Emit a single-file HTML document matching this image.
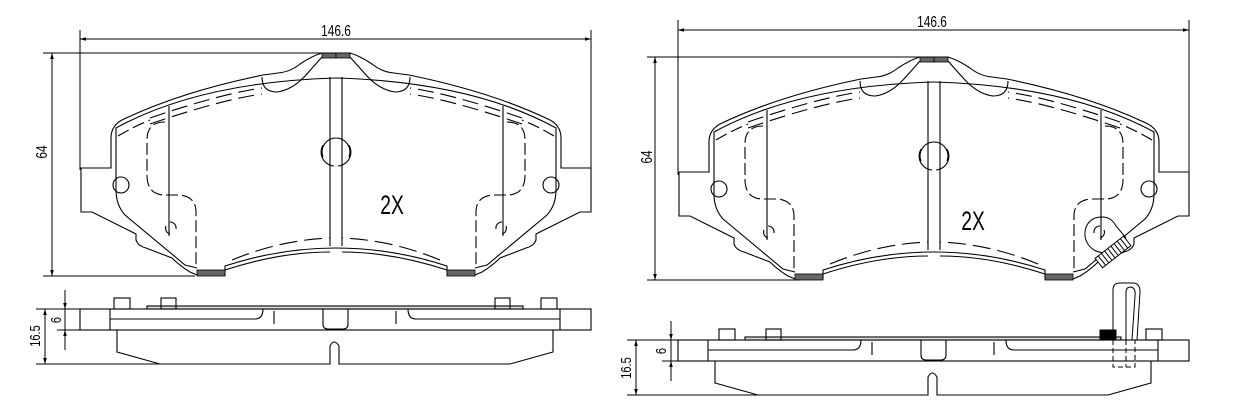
<!DOCTYPE html>
<html><head><style>
html,body{margin:0;padding:0;background:#fff;}
svg{display:block;}
text{font-family:"Liberation Sans",sans-serif;fill:#000;}
</style></head><body>
<svg width="1239" height="410" viewBox="0 0 1239 410" xmlns="http://www.w3.org/2000/svg">
<defs>
<marker id="ar" viewBox="0 0 10 10" refX="10" refY="5" markerWidth="9" markerHeight="6" orient="auto-start-reverse" markerUnits="userSpaceOnUse"><path d="M0 2 L10 5 L0 8 Z" fill="#000"/></marker>
<g id="half" fill="none" stroke="#000" stroke-width="1.1">
<path d="M336 53 L322 53 Q312 56 300 64 Q290 72 278 73 L263 75 Q180 92 122 120 Q111 126 111 138 L111 168 L81 168 L81 212 L92 212 L136 234 L136 240 Q138 246 146 248 L172 258 Q180 266 190 272 L197 275 L225 275 L225 266 Q280 248 336 248"/>
<path d="M336 78 Q200 82 116 128 L116 190 Q116 205 125 215 L185 265 L197 268"/>
<path d="M262 77 Q262 92 277 92 Q292 90 305 76 Q315 65 322 57"/>
<path d="M225 270 Q280 252 330 252" />
<path d="M150 118 Q220 94 262 88" stroke-dasharray="16 7"/>
<path d="M150 124 Q220 100 262 94" stroke-dasharray="16 7"/>
<path d="M118 136 Q135 126 150 120" stroke-dasharray="12 5"/>
<path d="M232 260 Q280 240 330 238" stroke-dasharray="18 7"/>
<path d="M165 122 Q147 122 147 140 L147 175 Q147 195 165 195 L180 195 Q196 197 196 212 L196 268" stroke-dasharray="12 4"/>
<line x1="169" y1="106" x2="169" y2="236"/>
<line x1="330" y1="77" x2="330" y2="246"/>
<path d="M336 138 A14 14 0 0 1 349 157"/>
<path d="M323 145 A14 14 0 0 0 334 166"/>
<path d="M170 222 A6 6 0 0 1 176 229"/>
<path d="M166 226 A6 6 0 0 0 170 234"/>
<circle cx="121" cy="185" r="8"/>
<rect x="197" y="270" width="28" height="6" fill="#666" stroke-width="0.8"/>
<rect x="322" y="53" width="14" height="5" fill="#666" stroke-width="0.8"/>
</g>
<g id="pad"><use href="#half"/><use href="#half" transform="translate(672,0) scale(-1,1)"/></g>
<g id="side" fill="none" stroke="#000" stroke-width="1.1">
<rect x="80" y="309" width="511" height="21"/>
<line x1="110" y1="309" x2="110" y2="330"/><line x1="560" y1="309" x2="560" y2="330"/>
<rect x="147" y="306" width="376" height="3" fill="#ddd"/>
<path d="M110 319 L255 319 Q263 319 263 309"/>
<path d="M560 319 L416 319 Q408 319 408 309"/>
<path d="M323 309 L323 324 Q323 329 328 329 L343 329 Q348 329 348 324 L348 309"/>
<line x1="274" y1="311" x2="274" y2="324"/><line x1="396" y1="311" x2="396" y2="324"/>
<path d="M117 330 L117 352 L160 364 L330 364 L330 346 Q334 338 339 346 L339 364 L510 364 L553 352 L553 330"/>
</g>
<g id="pegs" fill="none" stroke="#000" stroke-width="1.1">
<rect x="114" y="298" width="16" height="11"/><rect x="161" y="298" width="15" height="11"/>
<rect x="541" y="298" width="16" height="11"/>
</g>
</defs>

<use href="#pad"/>
<g stroke="#000" stroke-width="1" fill="none">
<line x1="80" y1="30" x2="80" y2="170"/><line x1="591" y1="30" x2="591" y2="170"/>
<line x1="80" y1="39" x2="591" y2="39" marker-start="url(#ar)" marker-end="url(#ar)"/>
<line x1="43" y1="53" x2="336" y2="53"/><line x1="43" y1="276" x2="195" y2="276"/>
<line x1="52" y1="53" x2="52" y2="276" marker-start="url(#ar)" marker-end="url(#ar)"/>
</g>
<text transform="translate(336,36) scale(0.85,1.1)" font-size="14" text-anchor="middle">146.6</text>
<text transform="translate(47,152) rotate(-90) scale(0.85,1.1)" font-size="14" text-anchor="middle">64</text>
<text transform="translate(392,214) scale(0.8,1.1)" font-size="24" text-anchor="middle">2X</text>

<use href="#side"/><use href="#pegs"/><rect x="495" y="298" width="15" height="11" fill="none" stroke="#000" stroke-width="1.1"/>
<g stroke="#000" stroke-width="1" fill="none">
<line x1="36" y1="309" x2="80" y2="309"/><line x1="57" y1="330" x2="80" y2="330"/><line x1="36" y1="364" x2="160" y2="364"/>
<line x1="65" y1="290" x2="65" y2="309" marker-end="url(#ar)"/><line x1="65" y1="309" x2="65" y2="330"/><line x1="65" y1="350" x2="65" y2="330" marker-end="url(#ar)"/>
<line x1="45" y1="309" x2="45" y2="364" marker-start="url(#ar)" marker-end="url(#ar)"/>
</g>
<text transform="translate(61,320) rotate(-90) scale(0.85,1.1)" font-size="13" text-anchor="middle">6</text>
<text transform="translate(40,336) rotate(-90) scale(0.85,1.1)" font-size="13" text-anchor="middle">16.5</text>

<use href="#pad" transform="translate(598,4)"/>
<g stroke="#000" stroke-width="1" fill="none">
<line x1="678" y1="20" x2="678" y2="175"/><line x1="1189" y1="20" x2="1189" y2="215"/>
<line x1="678" y1="30" x2="1189" y2="30" marker-start="url(#ar)" marker-end="url(#ar)"/>
<line x1="647" y1="57" x2="934" y2="57"/><line x1="647" y1="280" x2="800" y2="280"/>
<line x1="655" y1="57" x2="655" y2="280" marker-start="url(#ar)" marker-end="url(#ar)"/>
<path d="M1095 218 Q1110 214 1116 226 L1126 238"/>
<path d="M1118 248 Q1105 256 1094 250 Q1084 243 1085 232 Q1086 222 1095 218"/>
<g transform="translate(1113,252) rotate(-38)"><rect x="-18" y="-6" width="36" height="12" fill="#fff"/>
<line x1="-14" y1="-6" x2="-14" y2="6"/><line x1="-10" y1="-6" x2="-10" y2="6"/><line x1="-6" y1="-6" x2="-6" y2="6"/><line x1="-2" y1="-6" x2="-2" y2="6"/><line x1="2" y1="-6" x2="2" y2="6"/><line x1="6" y1="-6" x2="6" y2="6"/><line x1="10" y1="-6" x2="10" y2="6"/><line x1="14" y1="-6" x2="14" y2="6"/></g>
</g>
<text transform="translate(932,27) scale(0.85,1.1)" font-size="14" text-anchor="middle">146.6</text>
<text transform="translate(652,157) rotate(-90) scale(0.85,1.1)" font-size="14" text-anchor="middle">64</text>
<text transform="translate(973,230) scale(0.8,1.1)" font-size="24" text-anchor="middle">2X</text>

<use href="#side" transform="translate(598,31)"/><use href="#pegs" transform="translate(605,31)"/>
<g stroke="#000" stroke-width="1" fill="none">
<rect x="1100" y="330" width="16" height="9" fill="#000"/>
<path d="M1113 340 L1113 290 Q1113 283 1120 283 L1133 283 Q1140 283 1140 292 L1137 340"/>
<path d="M1126 340 L1126 292 Q1126 287 1131 287 Q1136 288 1135 296 L1132 340"/>
<path d="M1113 340 L1113 367 L1135 367 L1135 340" stroke-dasharray="5 3"/>
<line x1="1126" y1="340" x2="1126" y2="367" stroke-dasharray="5 3"/>
<line x1="627" y1="340" x2="678" y2="340"/><line x1="662" y1="361" x2="678" y2="361"/><line x1="627" y1="395" x2="758" y2="395"/>
<line x1="671" y1="321" x2="671" y2="340" marker-end="url(#ar)"/><line x1="671" y1="340" x2="671" y2="361"/><line x1="671" y1="381" x2="671" y2="361" marker-end="url(#ar)"/>
<line x1="636" y1="340" x2="636" y2="395" marker-start="url(#ar)" marker-end="url(#ar)"/>
</g>
<text transform="translate(666,351) rotate(-90) scale(0.85,1.1)" font-size="13" text-anchor="middle">6</text>
<text transform="translate(631,368) rotate(-90) scale(0.85,1.1)" font-size="13" text-anchor="middle">16.5</text>
</svg>
</body></html>
